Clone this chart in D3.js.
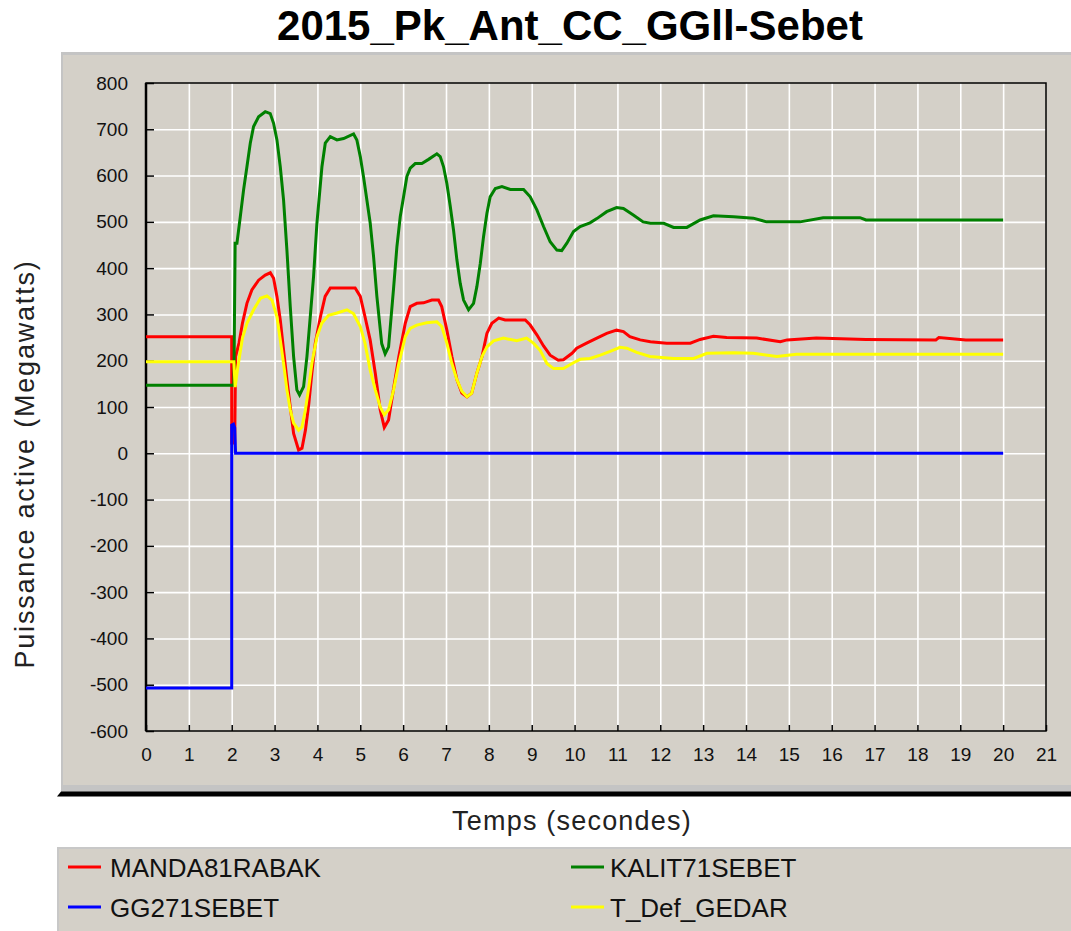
<!DOCTYPE html>
<html>
<head>
<meta charset="utf-8">
<script src="https://cdn.jsdelivr.net/npm/d3@7"></script>
<style>
  html, body { margin: 0; padding: 0; background: #fff; }
  svg { display: block; font-family: "Liberation Sans", Arial, sans-serif; }
</style>
</head>
<body>
<div id="chart"></div>
<script>
// Data: [time (s), active power (MW)]
const mandaRabak = [
  [0, 252], [2.0, 252], [2.0, 22], [2.07, 22], [2.09, 209], [2.17, 238], [2.25, 281], [2.355, 324],
  [2.47, 353], [2.627, 374], [2.783, 385], [2.9, 390], [2.977, 378], [3.055, 339], [3.133, 288],
  [3.21, 223], [3.288, 159], [3.366, 100], [3.444, 43], [3.56, 7], [3.64, 11], [3.72, 50], [3.8, 108],
  [3.87, 173], [3.95, 238], [4.07, 295], [4.18, 339], [4.3, 357], [4.53, 357], [4.88, 357], [5.0, 339],
  [5.11, 295], [5.23, 245], [5.35, 173], [5.465, 94], [5.56, 56], [5.66, 72], [5.777, 140], [5.9, 209],
  [6.05, 281], [6.165, 317], [6.32, 324], [6.476, 325], [6.67, 331], [6.825, 331], [6.9, 317],
  [7.02, 266], [7.137, 209], [7.254, 159], [7.37, 130], [7.49, 122], [7.6, 130], [7.72, 173],
  [7.84, 209], [7.954, 259], [8.07, 281], [8.23, 292], [8.38, 288], [8.85, 288], [8.965, 277],
  [9.12, 256], [9.276, 232], [9.43, 212], [9.62, 201], [9.74, 202], [9.94, 216], [10.05, 227],
  [10.28, 238], [10.52, 249], [10.75, 259], [10.98, 266], [11.14, 263], [11.29, 252], [11.53, 245],
  [11.77, 241], [12.15, 238], [12.7, 238], [12.93, 246], [13.24, 253], [13.55, 250], [14.25, 249],
  [14.8, 241], [14.96, 245], [15.64, 249], [16.8, 246], [18.43, 245], [18.5, 250], [19.13, 245], [20, 245]
];

const kalitSebet = [
  [0, 147], [2.05, 147], [2.08, 454], [2.122, 454], [2.2, 511], [2.277, 569], [2.355, 619], [2.433, 670],
  [2.51, 706], [2.627, 727], [2.783, 738], [2.899, 734], [2.977, 713], [3.055, 677], [3.133, 619],
  [3.21, 547], [3.288, 439], [3.366, 317], [3.444, 209], [3.52, 137], [3.583, 126], [3.677, 144],
  [3.755, 209], [3.833, 295], [3.91, 382], [3.988, 497], [4.105, 619], [4.183, 670], [4.3, 684],
  [4.455, 677], [4.61, 680], [4.843, 690], [4.92, 677], [5.0, 641], [5.076, 597], [5.232, 497],
  [5.31, 425], [5.387, 339], [5.5, 237], [5.58, 215], [5.66, 230], [5.776, 356], [5.854, 446],
  [5.932, 511], [6.01, 554], [6.087, 598], [6.165, 616], [6.282, 626], [6.437, 626], [6.593, 635],
  [6.787, 647], [6.865, 641], [6.943, 619], [7.02, 583], [7.1, 533], [7.176, 482], [7.254, 418],
  [7.332, 367], [7.41, 331], [7.526, 310], [7.643, 324], [7.72, 360], [7.8, 410], [7.876, 468],
  [7.954, 518], [8.03, 554], [8.15, 572], [8.305, 576], [8.5, 570], [8.81, 570], [8.965, 554],
  [9.12, 526], [9.276, 490], [9.43, 457], [9.587, 439], [9.70, 438], [9.82, 454], [9.975, 479],
  [10.13, 490], [10.36, 498], [10.52, 507], [10.75, 522], [10.98, 531], [11.14, 529], [11.37, 515],
  [11.6, 500], [11.77, 497], [12.08, 497], [12.31, 488], [12.62, 488], [12.93, 504], [13.24, 513],
  [13.71, 511], [14.17, 508], [14.48, 500], [15.26, 500], [15.8, 509], [16.66, 509], [16.8, 504], [20, 504]
];

const defGedar = [
  [0, 198], [2.05, 198], [2.08, 143], [2.14, 185], [2.25, 249], [2.355, 281], [2.51, 310], [2.67, 335],
  [2.82, 340], [2.94, 331], [3.055, 295], [3.133, 245], [3.21, 194], [3.288, 137], [3.366, 94],
  [3.444, 65], [3.56, 50], [3.64, 57], [3.72, 94], [3.8, 144], [3.87, 194], [3.99, 252], [4.1, 281],
  [4.26, 298], [4.455, 303], [4.69, 310], [4.84, 302], [5.0, 274], [5.11, 238], [5.23, 180],
  [5.35, 137], [5.465, 100], [5.56, 83], [5.66, 94], [5.777, 137], [5.9, 194], [6.05, 252],
  [6.165, 270], [6.32, 277], [6.55, 282], [6.787, 284], [6.9, 274], [7.02, 238], [7.137, 194],
  [7.254, 159], [7.37, 134], [7.49, 122], [7.6, 130], [7.72, 173], [7.84, 209], [7.954, 230],
  [8.11, 243], [8.34, 249], [8.65, 243], [8.88, 249], [9.04, 238], [9.2, 222], [9.354, 194],
  [9.51, 183], [9.74, 183], [9.94, 194], [10.13, 203], [10.36, 205], [10.6, 212], [10.83, 220],
  [11.06, 229], [11.22, 227], [11.45, 218], [11.76, 209], [12.31, 205], [12.78, 205], [13.09, 216],
  [13.71, 217], [14.17, 216], [14.72, 209], [15.18, 214], [20, 214]
];

const gg271Sebet = [
  [0, -507], [2.0, -507], [2.0, 61], [2.04, 63], [2.07, 55], [2.09, 0], [20, 0]
];

const xTicks = d3.range(0, 22, 1);
const yTicks = d3.range(-600, 900, 100);

const series = [
  { name: 'MANDA81RABAK', color: '#ff0000', data: mandaRabak },
  { name: 'KALIT71SEBET', color: '#008000', data: kalitSebet },
  { name: 'T_Def_GEDAR', color: '#ffff00', data: defGedar },
  { name: 'GG271SEBET', color: '#0000ff', data: gg271Sebet }
];

const width = 1071;
const height = 931;
const panelBg = '#d4d0c8';
const plot = { left: 146, right: 1046, top: 83, bottom: 731 };

const svg = d3.select('#chart')
  .append('svg')
  .attr('width', width)
  .attr('height', height);

// Title
svg.append('text')
  .attr('x', 570)
  .attr('y', 40)
  .attr('text-anchor', 'middle')
  .style('font-size', '42px')
  .style('font-weight', 'bold')
  .style('fill', '#000')
  .text('2015_Pk_Ant_CC_GGll-Sebet');

// Main gray panel
svg.append('rect')
  .attr('x', 61).attr('y', 52)
  .attr('width', width - 61).attr('height', 740)
  .attr('fill', '#c4c4c4');
svg.append('rect')
  .attr('x', 63).attr('y', 55)
  .attr('width', width - 63).attr('height', 730)
  .attr('fill', panelBg);

// Black bar under the panel
svg.append('path')
  .attr('d', `M57,796.5 L61,791.5 L${width},791.5 L${width},796.5 Z`)
  .attr('fill', '#000');

const x = d3.scaleLinear().domain([0, 21]).range([plot.left, plot.right]);
const y = d3.scaleLinear().domain([-600, 800]).range([plot.bottom, plot.top]);

// Gridlines
svg.append('g')
  .attr('class', 'x-grid')
  .attr('transform', `translate(0,${plot.bottom})`)
  .call(d3.axisBottom(x).tickValues(xTicks.slice(1, -1)).tickSize(-(plot.bottom - plot.top)).tickFormat(() => ''))
  .call(g => g.select('.domain').remove())
  .selectAll('line')
  .attr('stroke', '#fff')
  .attr('stroke-width', 1.6);

svg.append('g')
  .attr('class', 'y-grid')
  .attr('transform', `translate(${plot.left},0)`)
  .call(d3.axisLeft(y).tickValues(yTicks.slice(1, -1)).tickSize(-(plot.right - plot.left)).tickFormat(() => ''))
  .call(g => g.select('.domain').remove())
  .selectAll('line')
  .attr('stroke', '#fff')
  .attr('stroke-width', 1.6);

// Plot frame
svg.append('rect')
  .attr('x', plot.left).attr('y', plot.top)
  .attr('width', plot.right - plot.left).attr('height', plot.bottom - plot.top)
  .attr('fill', 'none')
  .attr('stroke', '#000')
  .attr('stroke-width', 1.5);
svg.append('line')
  .attr('x1', plot.left).attr('x2', plot.left)
  .attr('y1', plot.top).attr('y2', plot.bottom)
  .attr('stroke', '#000').attr('stroke-width', 2.5);

// Axes (inward ticks, plain hyphen for negatives)
const xAxis = svg.append('g')
  .attr('class', 'x-axis')
  .attr('transform', `translate(0,${plot.bottom})`)
  .call(d3.axisBottom(x).tickValues(xTicks).tickSizeInner(-6).tickSizeOuter(0).tickPadding(17).tickFormat(d => String(d)));
xAxis.select('.domain').remove();
xAxis.selectAll('line').attr('stroke', '#000').attr('stroke-width', 1.5);
xAxis.selectAll('text').style('font-size', '19px').style('font-family', '"Liberation Sans", Arial, sans-serif').attr('fill', '#111');

const yAxis = svg.append('g')
  .attr('class', 'y-axis')
  .attr('transform', `translate(${plot.left},0)`)
  .call(d3.axisLeft(y).tickValues(yTicks).tickSizeInner(-8).tickSizeOuter(0).tickPadding(18).tickFormat(d => String(d)));
yAxis.select('.domain').remove();
yAxis.selectAll('line').attr('stroke', '#000').attr('stroke-width', 1.5);
yAxis.selectAll('text').style('font-size', '19px').style('font-family', '"Liberation Sans", Arial, sans-serif').attr('fill', '#111');

// Series lines
const line = d3.line()
  .x(d => x(d[0]))
  .y(d => y(d[1]));

svg.append('g')
  .attr('class', 'series')
  .selectAll('path')
  .data(series)
  .enter()
  .append('path')
  .attr('d', d => line(d.data))
  .attr('fill', 'none')
  .attr('stroke', d => d.color)
  .attr('stroke-width', 3)
  .attr('stroke-linejoin', 'miter');

// Axis labels
svg.append('text')
  .attr('transform', 'translate(34,464) rotate(-90)')
  .attr('text-anchor', 'middle')
  .style('font-size', '27px')
  .style('letter-spacing', '1.8px')
  .style('fill', '#222')
  .text('Puissance active (Megawatts)');

svg.append('text')
  .attr('x', 572)
  .attr('y', 830)
  .attr('text-anchor', 'middle')
  .style('font-size', '27px')
  .style('letter-spacing', '1.2px')
  .style('fill', '#222')
  .text('Temps (secondes)');

// Legend panel
svg.append('rect')
  .attr('x', 57).attr('y', 847)
  .attr('width', width - 57).attr('height', height - 847)
  .attr('fill', '#c8c8c8');
svg.append('rect')
  .attr('x', 59).attr('y', 849)
  .attr('width', width - 59).attr('height', height - 849)
  .attr('fill', panelBg);

const legendOrder = [
  { s: series[0], col: 0, row: 0 },
  { s: series[3], col: 0, row: 1 },
  { s: series[1], col: 1, row: 0 },
  { s: series[2], col: 1, row: 1 }
];

const legendItems = svg.append('g')
  .attr('class', 'legend')
  .selectAll('.legend-item')
  .data(legendOrder)
  .enter()
  .append('g')
  .attr('class', 'legend-item')
  .attr('transform', d => `translate(${d.col ? 571 : 68},${d.row ? 907 : 867})`);

legendItems.append('line')
  .attr('x1', 0).attr('x2', 33)
  .attr('y1', 0).attr('y2', 0)
  .attr('stroke', d => d.s.color)
  .attr('stroke-width', 3);

legendItems.append('text')
  .attr('x', d => d.col ? 39 : 42)
  .attr('y', 10)
  .style('font-size', '26px')
  .style('fill', '#111')
  .text(d => d.s.name);
</script>
</body>
</html>
